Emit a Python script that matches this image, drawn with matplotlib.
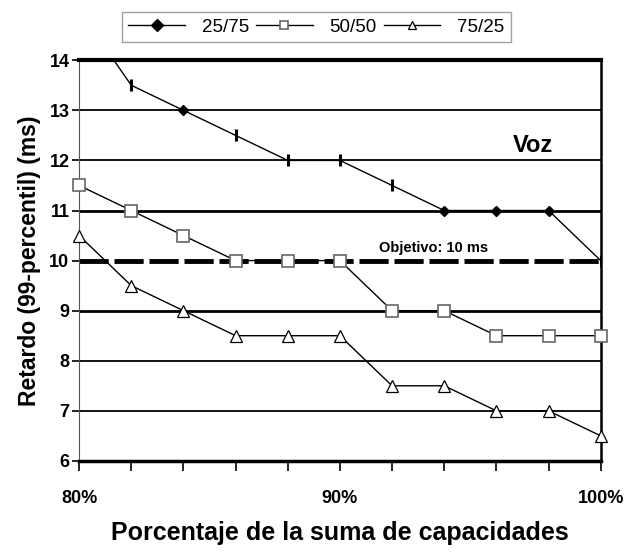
import numpy as np
import matplotlib
matplotlib.use("Agg")
import matplotlib.pyplot as plt

plt.rcParams['font.family'] = ['Liberation Sans Narrow', 'Liberation Sans', 'DejaVu Sans']

capacidad = [80, 82, 84, 86, 88, 90, 92, 94, 96, 98, 100]
r_25_75 = [15.0, 13.5, 13.0, 12.5, 12.0, 12.0, 11.5, 11.0, 11.0, 11.0, 10.0]
marcas_25_75 = ['D', '|', 'D', '|', '|', '|', '|', 'D', 'D', 'D', '|']
r_50_50 = [11.5, 11.0, 10.5, 10.0, 10.0, 10.0, 9.0, 9.0, 8.5, 8.5, 8.5]
r_75_25 = [10.5, 9.5, 9.0, 8.5, 8.5, 8.5, 7.5, 7.5, 7.0, 7.0, 6.5]
objetivo = 10
etiquetas = ['25/75', '50/50', '75/25']

fig = plt.figure(figsize=(6.33, 5.58), dpi=100)
ax = fig.add_axes([0.125, 0.174, 0.824, 0.718])

# horizontal grid, one line per ms
for y in range(7, 14):
    if y == objetivo:
        continue
    lw = 2.0 if y in (9, 11) else 1.3
    ax.axhline(y, color='black', lw=lw, zorder=1)
ax.axhline(objetivo, color='black', lw=3.5, ls=(0, (6, 1.2)), zorder=1)

ax.plot(capacidad, r_25_75, color='black', lw=1.0, zorder=3, label=etiquetas[0],
        marker='D', markersize=5, markevery=[2, 7, 8, 9],
        markerfacecolor='black')
for x, y, m in zip(capacidad, r_25_75, marcas_25_75):
    if m == '|' and y <= 14:
        ax.plot(x, y, marker='|', color='black', markersize=9, mew=2.2, zorder=4)
ax.plot(capacidad, r_50_50, color='black', lw=1.0, zorder=3, label=etiquetas[1],
        marker='s', markersize=9, markerfacecolor='white',
        markeredgecolor='#666666', markeredgewidth=1.2, clip_on=False)
ax.plot(capacidad, r_75_25, color='black', lw=1.0, zorder=3, label=etiquetas[2],
        marker='^', markersize=9, markerfacecolor='white',
        markeredgecolor='black', markeredgewidth=0.9, clip_on=False)

ax.set_xlim(80, 100)
ax.set_ylim(6, 14)
ax.set_xticks([80, 90, 100])
ax.set_xticklabels(['80%', '90%', '100%'], fontsize=13, fontweight='bold')
ax.set_xticks(capacidad, minor=True)
ax.set_yticks(range(6, 15))
ax.set_yticklabels([str(v) for v in range(6, 15)], fontsize=13, fontweight='bold')
ax.tick_params(axis='x', which='both', direction='out', length=7, width=1.2, pad=14)
ax.tick_params(axis='y', direction='out', length=5, width=1.2, pad=2)

ax.spines['top'].set_linewidth(3.0)
ax.spines['bottom'].set_linewidth(2.5)
ax.spines['right'].set_linewidth(1.8)
ax.spines['left'].set_linewidth(0.8)
ax.spines['left'].set_color('#555555')

ax.text(97.4, 12.3, 'Voz', fontsize=17, fontweight='bold', ha='center', va='center',
        family=['Liberation Sans', 'DejaVu Sans'])
ax.text(93.6, 10.12, 'Objetivo: 10 ms', fontsize=10.5, fontweight='bold',
        ha='center', va='bottom', family=['Liberation Sans', 'DejaVu Sans'])

ax.set_ylabel('Retardo (99-percentil) (ms)', fontsize=16.5, fontweight='bold', labelpad=6)
ax.set_xlabel('Porcentaje de la suma de capacidades', fontsize=18, fontweight='bold',
              labelpad=10)

handles, labels = ax.get_legend_handles_labels()
leg = fig.legend(handles, labels, loc='upper center', bbox_to_anchor=(0.5, 0.995),
                 ncol=3, frameon=True, fancybox=False, edgecolor='#888888',
                 handlelength=3.0, columnspacing=0.4, handletextpad=0.9,
                 borderpad=0.35, prop={'family': ['Liberation Sans', 'DejaVu Sans'], 'size': 13.5})
for h in leg.legend_handles:
    h.set_markersize(6)

fig.savefig('out.png', dpi=100)
